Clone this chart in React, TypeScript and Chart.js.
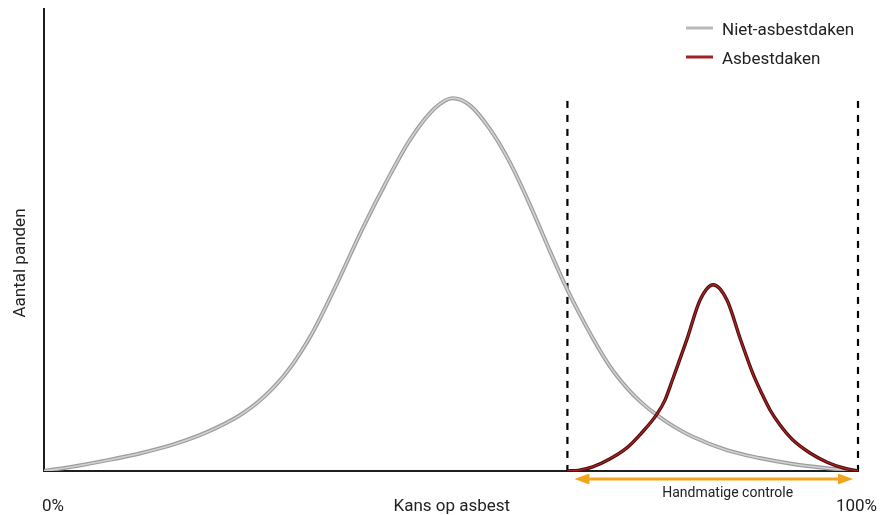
import React, { useEffect, useRef } from "react";
import { Chart, registerables } from "chart.js";

Chart.register(...registerables);

// Kans op asbest (%) and Aantal panden (relative)
const greyX = [0, 4, 8, 12, 16, 20, 24, 27, 30, 33, 36, 39, 42, 45, 48, 50.2, 52.3, 54.7, 57.2, 59.7, 62.1, 64.3, 65.8, 67.4, 69.5, 71.6, 73.4, 75.3, 77.5, 79.7, 83.9, 87.9, 92.0, 96.2, 100];
const greyY = [0, 1.1, 2.4, 3.9, 5.8, 8.4, 12.0, 16.0, 21.8, 30.0, 40.6, 52.0, 62.4, 71.8, 78.5, 80.7, 79.2, 74.2, 66.9, 57.6, 47.8, 39.2, 34.0, 28.8, 22.7, 18.0, 14.8, 12.1, 9.5, 7.4, 4.5, 2.8, 1.5, 0.6, 0];

const redX = [64.3, 65.8, 67.4, 69.5, 71.6, 73.4, 75.3, 76.3, 77.2, 79.0, 80.6, 82.2, 83.9, 85.5, 87.1, 88.2, 89.2, 90.4, 92.0, 94.1, 96.2, 98.2, 100];
const redY = [0, 0.2, 0.9, 2.6, 5.0, 8.2, 12.3, 15.4, 19.7, 28.6, 37.0, 40.3, 37.0, 28.8, 21.0, 16.7, 13.2, 10.0, 6.7, 3.9, 1.9, 0.65, 0];

const dashedX = [64.3, 100];
const dashedTop = 80.1;

const seriesLabels = ["Niet-asbestdaken", "Asbestdaken"];
const xTickLabels = ["0%", "100%"];
const xTitle = "Kans op asbest";
const yTitle = "Aantal panden";
const rangeLabel = "Handmatige controle";

const FONT = "Roboto, 'Noto Sans', sans-serif";

const toPts = (xs: number[], ys: number[]) => xs.map((x, i) => ({ x, y: ys[i] }));

const decorPlugin = {
  id: "decor",
  afterDraw(chart: any) {
    const ctx = chart.ctx;
    const xs = chart.scales.x;
    const ca = chart.chartArea;
    ctx.save();
    ctx.fillStyle = "#222";
    ctx.font = `17px ${FONT}`;
    ctx.textBaseline = "alphabetic";

    // tick labels
    ctx.textAlign = "left";
    ctx.fillText(xTickLabels[0], xs.getPixelForValue(0) - 2, 511);
    ctx.textAlign = "right";
    ctx.fillText(xTickLabels[1], xs.getPixelForValue(100) + 19, 511);

    // x title
    ctx.textAlign = "center";
    ctx.fillText(xTitle, xs.getPixelForValue(50.1), 511);

    // y title
    ctx.save();
    ctx.translate(25, (ca.top + ca.bottom) / 2 + 23);
    ctx.rotate(-Math.PI / 2);
    ctx.textAlign = "center";
    ctx.fillText(yTitle, 0, 0);
    ctx.restore();

    // arrow
    const x1 = xs.getPixelForValue(dashedX[0]) + 7;
    const x2 = xs.getPixelForValue(dashedX[1]) - 5;
    const ay = ca.bottom + 8;
    const col = "#f2a51c";
    ctx.strokeStyle = col;
    ctx.fillStyle = col;
    ctx.lineWidth = 3;
    ctx.beginPath();
    ctx.moveTo(x1 + 10, ay);
    ctx.lineTo(x2 - 10, ay);
    ctx.stroke();
    ctx.beginPath();
    ctx.moveTo(x1, ay);
    ctx.lineTo(x1 + 15, ay - 5.5);
    ctx.lineTo(x1 + 15, ay + 5.5);
    ctx.closePath();
    ctx.fill();
    ctx.beginPath();
    ctx.moveTo(x2, ay);
    ctx.lineTo(x2 - 15, ay - 5.5);
    ctx.lineTo(x2 - 15, ay + 5.5);
    ctx.closePath();
    ctx.fill();

    ctx.fillStyle = "#222";
    ctx.font = `14px ${FONT}`;
    ctx.textAlign = "center";
    ctx.fillText(rangeLabel, (x1 + x2) / 2 + 14, 497);

    // legend
    const lx = 686;
    const legendCols = ["#b8b8b8", "#a32222"];
    const ly = [28, 57];
    ctx.font = `17px ${FONT}`;
    ctx.textAlign = "left";
    for (let i = 0; i < seriesLabels.length; i++) {
      ctx.strokeStyle = legendCols[i];
      ctx.lineWidth = 3;
      ctx.beginPath();
      ctx.moveTo(lx, ly[i]);
      ctx.lineTo(lx + 27, ly[i]);
      ctx.stroke();
      ctx.fillStyle = "#222";
      ctx.fillText(seriesLabels[i], lx + 36, ly[i] + 6.5);
    }
    ctx.restore();
  },
};

export default function App() {
  const ref = useRef<HTMLCanvasElement | null>(null);
  useEffect(() => {
    if (!ref.current) return;
    const greyPts = toPts(greyX, greyY);
    const redPts = toPts(redX, redY);
    const common = { pointRadius: 0, fill: false, cubicInterpolationMode: "monotone" };
    const dashSets = dashedX.map((dx) => ({
      label: "dash",
      data: [{ x: dx, y: dashedTop }, { x: dx, y: 0 }],
      borderColor: "#000",
      borderWidth: 2.2,
      borderDash: [7, 7],
      pointRadius: 0,
      tension: 0,
      clip: false,
      order: 10,
    }));
    const chart = new Chart(ref.current, {
      type: "line",
      data: {
        datasets: [
          { label: seriesLabels[1], data: redPts, borderColor: "#a82424", borderWidth: 1.4, order: 1, ...common },
          { label: seriesLabels[1] + "_o", data: redPts, borderColor: "#4a0b0b", borderWidth: 3.4, order: 2, ...common },
          { label: seriesLabels[0], data: greyPts, borderColor: "#d2d2d2", borderWidth: 1.6, order: 3, ...common },
          { label: seriesLabels[0] + "_o", data: greyPts, borderColor: "#9c9c9c", borderWidth: 4, order: 4, ...common },
          ...dashSets,
        ] as any,
      },
      options: {
        animation: false,
        responsive: false,
        layout: { padding: { left: 44, right: 22, top: 9, bottom: 44 } },
        plugins: { legend: { display: false }, tooltip: { enabled: false } },
        scales: {
          x: {
            type: "linear",
            min: 0,
            max: 100,
            ticks: { display: false },
            grid: { display: false, drawTicks: false },
            border: { display: true, color: "#1e1e1e", width: 2 },
          },
          y: {
            type: "linear",
            min: 0,
            max: 100,
            ticks: { display: false },
            grid: { display: false, drawTicks: false },
            border: { display: true, color: "#1e1e1e", width: 2 },
          },
        },
      },
      plugins: [decorPlugin],
    });
    return () => chart.destroy();
  }, []);
  return (
    <div style={{ position: "fixed", left: 0, top: 0, width: 880, height: 515, background: "#fff" }}>
      <canvas ref={ref} width={880} height={515} />
    </div>
  );
}
